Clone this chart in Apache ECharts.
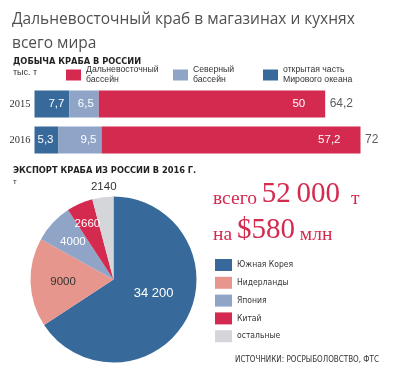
<!DOCTYPE html>
<html><head><meta charset="utf-8">
<script src="https://cdn.jsdelivr.net/npm/echarts@6/dist/echarts.min.js"></script>
<style>html,body{margin:0;padding:0;background:#fff}#c{width:397px;height:380px}</style>
</head><body><div id="c"></div>
<script>
// ---- data ----
var years = ['2015', '2016'];
var openOcean = [7.7, 5.3];      // открытая часть Мирового океана
var northern = [6.5, 9.5];       // Северный бассейн
var farEast = [50, 57.2];        // Дальневосточный бассейн
var totals = [64.2, 72];
var exportNames = ['Южная Корея', 'Нидерланды', 'Япония', 'Китай', 'остальные'];
var exportValues = [34200, 9000, 4000, 2660, 2140];

// ---- styles ----
var C_DARK = '#376a9b', C_LIGHT = '#8fa4c7', C_RED = '#d42a4f', C_PINK = '#e7968d', C_GRAY = '#d5d6d9';
var pieColors = [C_DARK, C_PINK, C_LIGHT, C_RED, C_GRAY];
var pieLabelColors = ['#fff', '#333', '#fff', '#fff', '#333'];
var pieLabelShift = [[1, -7], [-6, 1], [-8, -7], [-8, -15], [-4, -49]];
var SANS = '"Liberation Sans", Arial, sans-serif';
var NARROW = '"DejaVu Sans Condensed", "Liberation Sans Narrow", "Liberation Sans", sans-serif';
var SERIF = '"Liberation Serif", serif';

function fmt(v) { return String(v).replace('.', ','); }
function fmtThousands(v) { var s = String(v); return s.length > 4 ? s.slice(0, s.length - 3) + ' ' + s.slice(-3) : s; }

var chart = echarts.init(document.getElementById('c'), null, {renderer: 'canvas'});

var legendText = {fontSize: 8.7, color: '#333', fontFamily: SANS, lineHeight: 10};
function barLegend(name, left, label) {
  return {
    data: [name], left: left, top: 65, padding: 0, itemWidth: 15, itemHeight: 11, itemGap: 0,
    icon: 'rect', selectedMode: false, textStyle: legendText,
    formatter: function () { return label; }
  };
}
function t(text, left, top, style) {
  return {text: text, left: left, top: top, padding: 0, textStyle: style};
}
var redRich = {
  s: {fontSize: 19.5, fontWeight: 'normal', color: C_RED, fontFamily: SERIF, verticalAlign: 'bottom', lineHeight: 30},
  u: {fontSize: 19.5, fontWeight: 'normal', color: C_RED, fontFamily: SERIF, verticalAlign: 'bottom', lineHeight: 30, padding: [0, 0, 0, 11]},
  b: {fontSize: 29, fontWeight: 'normal', color: C_RED, fontFamily: SERIF, verticalAlign: 'bottom', lineHeight: 30}
};

var option = {
  animation: false,
  title: [
    t('Дальневосточный краб в магазинах и кухнях\nвсего мира', 12, 8,
      {fontSize: 15.5, lineHeight: 24, fontWeight: 'normal', color: '#505050', fontFamily: '"Open Sans", sans-serif'}),
    t('ДОБЫЧА КРАБА В РОССИИ', 13, 57, {fontSize: 9.2, fontWeight: 'bold', color: '#222', fontFamily: NARROW}),
    t('тыс. т', 13, 68, {fontSize: 9, fontWeight: 'normal', color: '#333', fontFamily: SANS}),
    t('ЭКСПОРТ КРАБА ИЗ РОССИИ В 2016 Г.', 13, 166, {fontSize: 9.2, fontWeight: 'bold', color: '#222', fontFamily: NARROW}),
    t('т', 13, 178, {fontSize: 8, fontWeight: 'normal', color: '#333', fontFamily: SANS}),
    t('{s|всего }{b|52\u2009000}{u|т}', 213, 179, {rich: redRich}),
    t('{s|на }{b|$580}{s| млн}', 213, 215, {rich: redRich}),
    t('ИСТОЧНИКИ: РОСРЫБОЛОВСТВО, ФТС', 235, 356, {fontSize: 8, fontWeight: 'normal', color: '#333', fontFamily: NARROW})
  ],
  legend: [
    barLegend('Дальневосточный бассейн', 66, 'Дальневосточный\nбассейн'),
    barLegend('Северный бассейн', 173, 'Северный\nбассейн'),
    barLegend('открытая часть Мирового океана', 263, 'открытая часть\nМирового океана'),
    {data: exportNames, orient: 'vertical', left: 215, top: 259, padding: 0, itemWidth: 17, itemHeight: 12, itemGap: 5.8,
     icon: 'rect', selectedMode: false,
     textStyle: {fontSize: 8.5, color: '#333', fontFamily: NARROW}}
  ],
  grid: {left: 34.5, width: 326, top: 86, height: 72},
  xAxis: {type: 'value', min: 0, max: 72, show: false},
  yAxis: {type: 'category', data: years, inverse: true,
    axisLine: {show: false}, axisTick: {show: false}, splitLine: {show: false},
    axisLabel: {margin: 4, fontSize: 10.5, color: '#333', fontFamily: SERIF}},
  series: [
    {name: 'открытая часть Мирового океана', type: 'bar', stack: 't', data: openOcean, barWidth: 27,
     itemStyle: {color: C_DARK},
     label: {show: true, position: 'insideRight', distance: 5, color: '#fff', fontSize: 11.5, fontFamily: SANS,
       formatter: function (p) { return fmt(p.value); }}},
    {name: 'Северный бассейн', type: 'bar', stack: 't', data: northern, barWidth: 27,
     itemStyle: {color: C_LIGHT},
     label: {show: true, position: 'insideRight', distance: 5, color: '#fff', fontSize: 11.5, fontFamily: SANS,
       formatter: function (p) { return fmt(p.value); }}},
    {name: 'Дальневосточный бассейн', type: 'bar', stack: 't', data: farEast, barWidth: 27,
     itemStyle: {color: C_RED},
     label: {show: true, position: 'insideRight', distance: 20, color: '#fff', fontSize: 11.5, fontFamily: SANS,
       formatter: function (p) { return fmt(p.value); }}},
    {name: 'total', type: 'scatter', symbolSize: 1, itemStyle: {color: 'rgba(0,0,0,0)'},
     data: totals.map(function (v, i) { return [v, i]; }),
     label: {show: true, position: 'right', distance: 4, color: '#333', fontSize: 12, fontFamily: SANS,
       formatter: function (p) { return fmt(p.value[0]); }}},
    {name: 'export', type: 'pie', center: [113.5, 279.5], radius: [0, 83], startAngle: 90, clockwise: true,
     data: exportNames.map(function (n, i) {
       return {name: n, value: exportValues[i], itemStyle: {color: pieColors[i]},
         label: {color: pieLabelColors[i], fontSize: i === 0 ? 13 : 11.5}};
     }),
     label: {show: true, position: 'inside', fontSize: 11.5, fontFamily: SANS,
       formatter: function (p) { return fmtThousands(p.value); }},
     labelLine: {show: false},
     labelLayout: function (p) { var s = pieLabelShift[p.dataIndex]; return {dx: s[0], dy: s[1]}; },
     emphasis: {disabled: true}}
  ]
};
chart.setOption(option);
</script>
</body></html>
